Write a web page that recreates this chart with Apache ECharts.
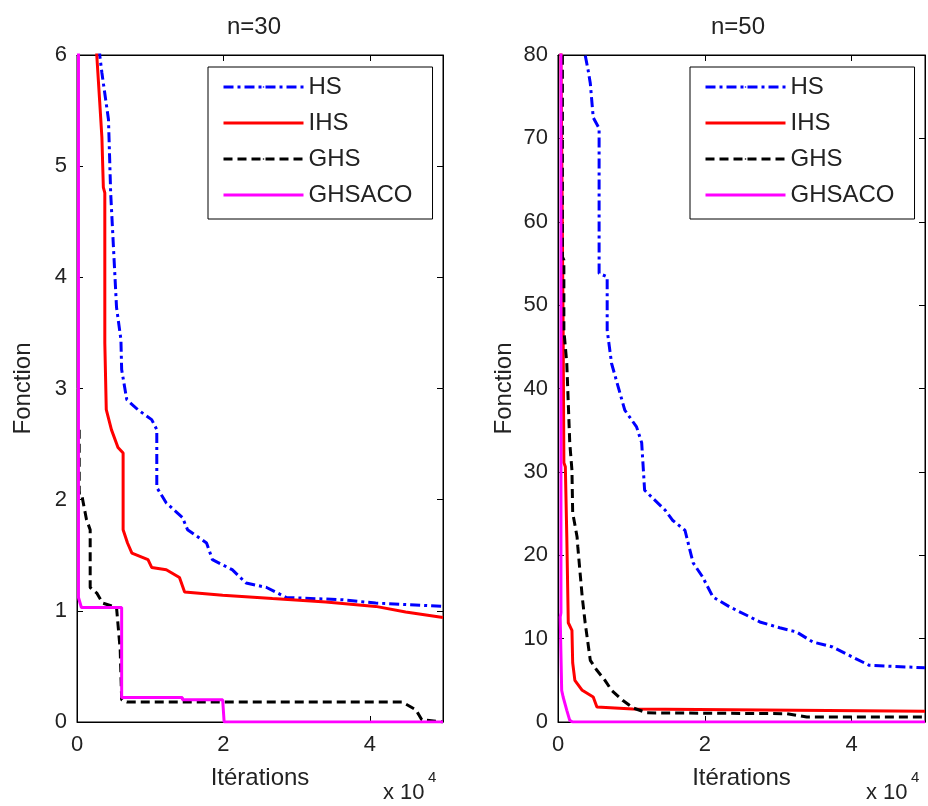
<!DOCTYPE html>
<html>
<head>
<meta charset="utf-8">
<script src="https://cdn.jsdelivr.net/npm/echarts@6/dist/echarts.min.js"></script>
<style>
html,body{margin:0;padding:0;background:#fff;}
#chart{width:928px;height:806px;}
</style>
</head>
<body>
<div id="chart"></div>
<script>
// Iterations in units of 1e4, objective ("Fonction") values
const seriesNames = ['HS', 'IHS', 'GHS', 'GHSACO'];
const titles = ['n=30', 'n=50'];
const xTicks = [0, 2, 4];

// n = 30
const hs30 = [[0.31,7.0],[0.31,6.0],[0.34,5.84],[0.43,5.42],[0.46,4.76],[0.54,3.73],[0.60,3.44],[0.61,3.17],[0.68,2.90],[0.83,2.81],[1.02,2.72],[1.09,2.63],[1.09,2.11],[1.22,1.97],[1.44,1.84],[1.51,1.73],[1.77,1.61],[1.85,1.46],[2.12,1.37],[2.31,1.25],[2.59,1.21],[2.86,1.12],[3.62,1.10],[4.08,1.07],[5.0,1.04]];
const ihs30 = [[0.27,7.0],[0.27,6.0],[0.31,5.58],[0.34,5.26],[0.36,4.81],[0.38,4.76],[0.38,3.41],[0.40,2.81],[0.47,2.63],[0.56,2.47],[0.63,2.42],[0.63,1.73],[0.69,1.61],[0.75,1.52],[0.97,1.46],[1.02,1.39],[1.22,1.37],[1.40,1.30],[1.47,1.17],[1.99,1.14],[2.67,1.11],[3.40,1.08],[4.08,1.04],[4.49,0.99],[5.0,0.94]];
const ghs30 = [[0.03,2.63],[0.03,2.06],[0.06,2.06],[0.13,1.82],[0.18,1.73],[0.18,1.21],[0.27,1.16],[0.35,1.07],[0.54,1.03],[0.59,0.65],[0.61,0.20],[0.68,0.18],[1.44,0.18],[4.44,0.18],[4.63,0.11],[4.71,0.02],[5.0,0.0]];
const ghsaco30 = [[0.02,7.0],[0.02,1.12],[0.06,1.03],[0.61,1.03],[0.61,0.22],[1.44,0.22],[1.44,0.20],[1.99,0.20],[2.01,0.0],[5.0,0.0]];

// n = 50
const hs50 = [[0.37,90],[0.37,80],[0.41,78.2],[0.44,76.6],[0.48,72.5],[0.56,71.2],[0.56,53.8],[0.67,53.4],[0.67,47.0],[0.73,43.0],[0.82,40.2],[0.91,37.4],[1.07,35.4],[1.14,33.5],[1.18,27.8],[1.46,25.4],[1.56,24.2],[1.73,23.0],[1.84,19.1],[1.97,17.4],[2.11,15.0],[2.34,13.8],[2.57,12.8],[2.75,12.0],[3.02,11.3],[3.25,10.8],[3.47,9.6],[3.74,9.0],[4.01,7.8],[4.24,6.8],[5.0,6.5]];
const ihs50 = [[0.04,90],[0.04,80],[0.07,47.0],[0.08,31.1],[0.10,30.6],[0.12,22.2],[0.14,11.9],[0.19,11.0],[0.20,7.1],[0.23,5.0],[0.33,3.8],[0.48,3.0],[0.53,1.8],[1.02,1.56],[5.0,1.3]];
const ghs50 = [[0.06,90],[0.06,80],[0.06,55.8],[0.08,55.4],[0.08,47.0],[0.12,43.0],[0.16,33.5],[0.19,30.2],[0.20,25.1],[0.26,22.2],[0.27,21.0],[0.33,15.0],[0.37,11.9],[0.44,7.4],[0.53,6.2],[0.64,5.0],[0.73,3.8],[0.88,2.6],[1.02,1.7],[1.21,1.1],[3.12,1.0],[3.39,0.6],[5.0,0.6]];
const ghsaco50 = [[0.04,90],[0.04,80],[0.04,13.1],[0.03,12.6],[0.05,3.8],[0.07,3.0],[0.12,1.4],[0.16,0.2],[0.2,0.0],[5.0,0.0]];

const yMax = [6, 80];
const yInterval = [1, 10];
const data30 = [hs30, ihs30, ghs30, ghsaco30];
const data50 = [hs50, ihs50, ghs50, ghsaco50];

const colors = ['#0000ff', '#ff0000', '#000000', '#ff00ff'];
const dashes = [[10, 4, 3, 4], 'solid', [9, 5], 'solid'];
const FONT = '"Liberation Sans", Arial, sans-serif';

const grids = [
  {left: 77, right: 485, top: 55, bottom: 84},
  {left: 558, right: 3, top: 55, bottom: 84}
];

const xAxes = [], yAxes = [], series = [];
grids.forEach((g, gi) => {
  const baseX = {
    type: 'value', gridIndex: gi, min: 0, max: 5, interval: 2,
    axisLine: {show: true, onZero: false, lineStyle: {color: '#000', width: 1}},
    axisTick: {show: true, inside: true, length: 6, lineStyle: {color: '#000'}},
    splitLine: {show: false}
  };
  xAxes.push(Object.assign({}, baseX, {
    position: 'bottom',
    name: 'Itérations', nameLocation: 'middle', nameGap: 44,
    nameTextStyle: {fontSize: 24, color: '#222', fontFamily: FONT},
    axisLabel: {fontSize: 22, color: '#222', fontFamily: FONT, margin: 12,
      formatter: v => (xTicks.indexOf(v) >= 0 ? String(v) : '')}
  }));
  xAxes.push(Object.assign({}, baseX, {position: 'top', axisLabel: {show: false}}));
  const baseY = {
    type: 'value', gridIndex: gi, min: 0, max: yMax[gi], interval: yInterval[gi],
    axisLine: {show: true, onZero: false, lineStyle: {color: '#000', width: 1}},
    axisTick: {show: true, inside: true, length: 6, lineStyle: {color: '#000'}},
    splitLine: {show: false}
  };
  yAxes.push(Object.assign({}, baseY, {
    position: 'left',
    name: 'Fonction', nameLocation: 'middle', nameGap: 42, nameRotate: 90,
    nameTextStyle: {fontSize: 24, color: '#222', fontFamily: FONT},
    axisLabel: {fontSize: 22, color: '#222', fontFamily: FONT, margin: 10}
  }));
  yAxes.push(Object.assign({}, baseY, {position: 'right', axisLabel: {show: false}}));

  const dataset = gi === 0 ? data30 : data50;
  seriesNames.forEach((name, si) => {
    series.push({
      name: name, type: 'line', xAxisIndex: gi * 2, yAxisIndex: gi * 2,
      data: dataset[si], symbol: 'none', showSymbol: false, clip: true,
      animation: false, z: 2 + si,
      lineStyle: {color: colors[si], width: 3, type: dashes[si]},
      itemStyle: {color: colors[si]}
    });
  });
});

const legendCommon = {
  orient: 'vertical', data: seriesNames,
  itemWidth: 80, itemHeight: 2, itemGap: 12,
  backgroundColor: '#fff', borderColor: '#000', borderWidth: 1,
  padding: [8, 20, 12, 14],
  lineStyle: {width: 3},
  textStyle: {fontSize: 24, color: '#222', fontFamily: FONT}
};

const chart = echarts.init(document.getElementById('chart'), null, {renderer: 'canvas'});
chart.setOption({
  backgroundColor: '#fff',
  animation: false,
  title: [
    {text: titles[0], left: 249, top: 10, textAlign: 'center',
      textStyle: {fontSize: 24, fontWeight: 'normal', color: '#222', fontFamily: FONT}},
    {text: titles[1], left: 733, top: 10, textAlign: 'center',
      textStyle: {fontSize: 24, fontWeight: 'normal', color: '#222', fontFamily: FONT}}
  ],
  grid: grids.map(g => Object.assign({show: true, borderColor: '#000', borderWidth: 1, backgroundColor: '#fff'}, g)),
  xAxis: xAxes,
  yAxis: yAxes,
  legend: [
    Object.assign({}, legendCommon, {left: 208, top: 67}),
    Object.assign({}, legendCommon, {left: 690, top: 67})
  ],
  series: series,
  graphic: [
    {type: 'text', left: 383, top: 782, style: {text: 'x 10', fontSize: 22, fill: '#222', fontFamily: FONT}},
    {type: 'text', left: 428, top: 770, style: {text: '4', fontSize: 15, fill: '#222', fontFamily: FONT}},
    {type: 'text', left: 866, top: 782, style: {text: 'x 10', fontSize: 22, fill: '#222', fontFamily: FONT}},
    {type: 'text', left: 911, top: 770, style: {text: '4', fontSize: 15, fill: '#222', fontFamily: FONT}}
  ]
});
</script>
</body>
</html>
